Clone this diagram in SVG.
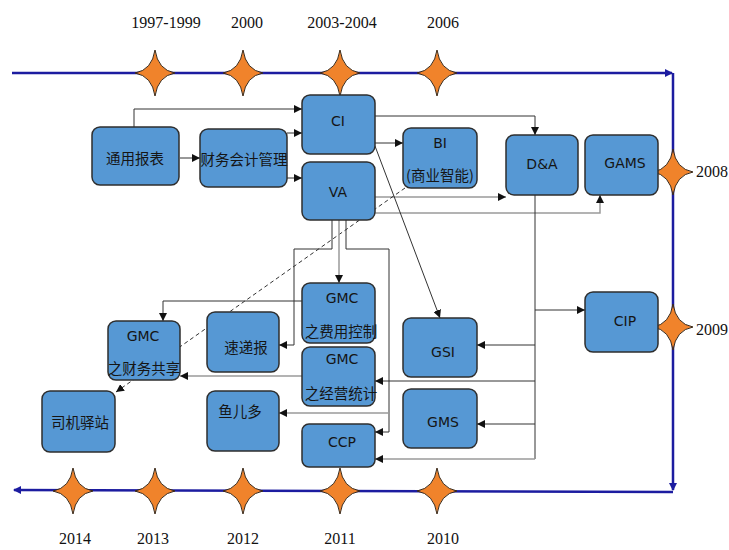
<svg xmlns="http://www.w3.org/2000/svg" width="729" height="550" viewBox="0 0 729 550">
<style>
.box{fill:#5698d4;stroke:#2e2e2e;stroke-width:1.5}
.lbl{font-family:"DejaVu Sans","Noto Sans CJK SC",sans-serif;font-size:14px;fill:#151515;text-anchor:middle;dominant-baseline:central}
.cn{font-family:"Noto Sans CJK SC",sans-serif;font-size:14.5px;fill:#151515;text-anchor:middle;dominant-baseline:central}
.yr{font-family:"Liberation Serif",serif;font-size:16px;fill:#111;text-anchor:middle;dominant-baseline:central}
.tl{fill:none;stroke:#1c1ca0;stroke-width:2.5}
.c{fill:none;stroke:#333;stroke-width:1}
.g{fill:none;stroke:#9a9a9a;stroke-width:1.5}
.star{fill:#f0832b;stroke:#3a2a1a;stroke-width:1}
</style>
<defs>
<marker id="ah" viewBox="0 0 8 8" refX="8" refY="4" markerWidth="8" markerHeight="8" markerUnits="userSpaceOnUse" orient="auto">
<path d="M0,0 L8,4 L0,8 z" fill="#111"/>
</marker>
<marker id="tah" viewBox="0 0 8 8" refX="7" refY="4" markerWidth="8" markerHeight="8" markerUnits="userSpaceOnUse" orient="auto">
<path d="M0,0 L8,4 L0,8 z" fill="#1c1ca0"/>
</marker>
<path id="st" class="star" d="M0,-23 Q3,-3 20,0 Q3,3 0,23 Q-3,3 -20,0 Q-3,-3 0,-23 Z"/>
</defs>

<g id="timeline">
<path class="tl" d="M12,73 H672" marker-end="url(#tah)"/>
<path class="tl" d="M673,73 V490" marker-end="url(#tah)"/>
<path class="tl" d="M673,492 L14,490" marker-end="url(#tah)"/>
<use href="#st" x="155" y="73"/>
<use href="#st" x="243" y="73"/>
<use href="#st" x="340" y="73"/>
<use href="#st" x="437" y="73"/>
<use href="#st" x="673" y="172"/>
<use href="#st" x="673" y="327"/>
<use href="#st" x="73" y="491"/>
<use href="#st" x="155" y="491"/>
<use href="#st" x="243" y="491"/>
<use href="#st" x="340" y="491"/>
<use href="#st" x="437" y="491"/>
<text class="yr" x="166" y="22">1997-1999</text>
<text class="yr" x="247" y="22">2000</text>
<text class="yr" x="342" y="22">2003-2004</text>
<text class="yr" x="443" y="22">2006</text>
<text class="yr" x="712" y="171">2008</text>
<text class="yr" x="712" y="329">2009</text>
<text class="yr" x="75" y="538">2014</text>
<text class="yr" x="153" y="538">2013</text>
<text class="yr" x="243" y="538">2012</text>
<text class="yr" x="340" y="538">2011</text>
<text class="yr" x="443" y="538">2010</text>
</g>

<g id="connectors">
<path class="c" d="M134,127 V109 H302" marker-end="url(#ah)"/>
<path class="c" d="M180,158 H200" marker-end="url(#ah)"/>
<path class="c" d="M287,133 H302" marker-end="url(#ah)"/>
<path class="c" d="M287,178 H302" marker-end="url(#ah)"/>
<path class="c" d="M375,116 H535 V135" marker-end="url(#ah)"/>
<path class="c" d="M375,143 H403" marker-end="url(#ah)"/>
<path class="g" d="M375,197 H506" marker-end="url(#ah)"/>
<path class="g" d="M375,213 H600 V195" marker-end="url(#ah)"/>
<path class="c" d="M375,146 L440,318" marker-end="url(#ah)"/>
<path class="c" stroke-dasharray="4,3" d="M405,188 L116,392" marker-end="url(#ah)"/>
<path class="c" stroke-width="1.5" d="M332,220 V249 H294 V345 H279" marker-end="url(#ah)"/>
<path class="g" d="M339,220 V283" marker-end="url(#ah)"/>
<path class="c" stroke-width="1.5" d="M346,220 V249 H389 V432 H375" marker-end="url(#ah)"/>
<path class="g" d="M389,413 H279" marker-end="url(#ah)"/>
<path class="c" stroke-width="1.5" d="M302,301 H163 V321" marker-end="url(#ah)"/>
<path class="g" d="M302,376 H180" marker-end="url(#ah)"/>
<path class="c" stroke-width="1.5" d="M535,195 V459"/>
<path class="c" d="M535,310 H585" marker-end="url(#ah)"/>
<path class="c" d="M535,345 H477" marker-end="url(#ah)"/>
<path class="c" d="M535,381 H375" marker-end="url(#ah)"/>
<path class="c" d="M535,424 H477" marker-end="url(#ah)"/>
<path class="g" d="M535,459 H375" marker-end="url(#ah)"/>
</g>

<g id="n-tongyong"><rect class="box" x="92" y="127" width="87" height="58" rx="8"/><text class="cn" x="135" y="157">通用报表</text></g>
<g id="n-caiwu"><rect class="box" x="200" y="129" width="87" height="58" rx="8"/><text class="cn" x="244" y="158">财务会计管理</text></g>
<g id="n-ci"><rect class="box" x="302" y="95" width="73" height="59" rx="8"/><text class="lbl" x="338" y="121">CI</text></g>
<g id="n-va"><rect class="box" x="302" y="162" width="73" height="58" rx="8"/><text class="lbl" x="338" y="192">VA</text></g>
<g id="n-bi"><rect class="box" x="403" y="128" width="74" height="60" rx="8"/><text class="lbl" x="440" y="143">BI</text><text class="cn" x="440" y="174">(商业智能)</text></g>
<g id="n-da"><rect class="box" x="506" y="135" width="72" height="60" rx="8"/><text class="lbl" x="542" y="164">D&amp;A</text></g>
<g id="n-gams"><rect class="box" x="585" y="135" width="73" height="60" rx="8"/><text class="lbl" x="625" y="163">GAMS</text></g>
<g id="n-cip"><rect class="box" x="585" y="292" width="73" height="60" rx="8"/><text class="lbl" x="625" y="321">CIP</text></g>
<g id="n-gsi"><rect class="box" x="403" y="318" width="74" height="59" rx="8"/><text class="lbl" x="443" y="352">GSI</text></g>
<g id="n-gms"><rect class="box" x="403" y="389" width="74" height="59" rx="8"/><text class="lbl" x="443" y="422">GMS</text></g>
<g id="n-gmc-fy"><rect class="box" x="302" y="283" width="73" height="60" rx="8"/><text class="lbl" x="342" y="298">GMC</text><text class="cn" x="341" y="330">之费用控制</text></g>
<g id="n-gmc-jy"><rect class="box" x="302" y="347" width="73" height="59" rx="8"/><text class="lbl" x="342" y="359">GMC</text><text class="cn" x="341" y="392">之经营统计</text></g>
<g id="n-ccp"><rect class="box" x="302" y="424" width="73" height="43" rx="7"/><text class="lbl" x="342" y="442">CCP</text></g>
<g id="n-gmc-cw"><rect class="box" x="108" y="321" width="72" height="59" rx="8"/><text class="lbl" x="143" y="336">GMC</text><text class="cn" x="144" y="367">之财务共享</text></g>
<g id="n-sudi"><rect class="box" x="207" y="312" width="72" height="60" rx="8"/><text class="cn" x="246" y="346">速递报</text></g>
<g id="n-siji"><rect class="box" x="42" y="391" width="73" height="61" rx="8"/><text class="cn" x="80" y="421">司机驿站</text></g>
<g id="n-yuer"><rect class="box" x="207" y="391" width="72" height="60" rx="8"/><text class="cn" x="240" y="410">鱼儿多</text></g>
</svg>
